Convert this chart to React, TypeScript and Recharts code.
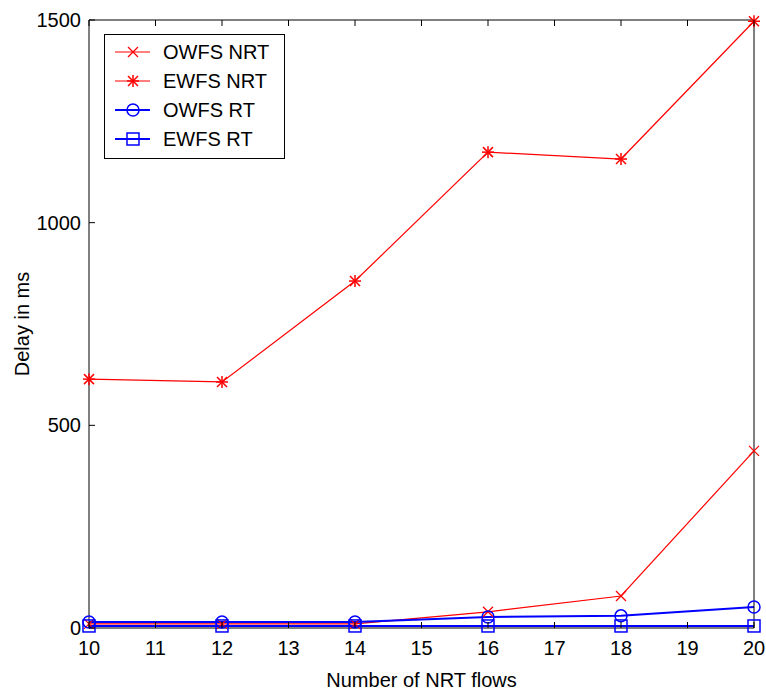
import { Legend, Line, LineChart, XAxis, YAxis } from 'recharts'

const flows = [10, 12, 14, 16, 18, 20]
const owfsNrt = [10, 10, 10, 40, 79, 437]
const ewfsNrt = [614, 607, 856, 1174, 1157, 1497]
const owfsRt = [15, 15, 15, 27, 30, 52]
const ewfsRt = [5, 5, 5, 5, 5, 5]
const xTicks = [10, 11, 12, 13, 14, 15, 16, 17, 18, 19, 20]
const yTicks = [0, 500, 1000, 1500]

const data = flows.map((f, i) => ({
  flows: f,
  owfsNrt: owfsNrt[i],
  ewfsNrt: ewfsNrt[i],
  owfsRt: owfsRt[i],
  ewfsRt: ewfsRt[i],
}))

const FONT = "'Liberation Sans Narrow', 'Liberation Sans', Arial, sans-serif"
const FS = 20
const RED = '#ff0000'
const BLUE = '#0000ff'

type Kind = 'x' | 'star' | 'circle' | 'square'

function Marker({ cx, cy, kind, color }: { cx: number; cy: number; kind: Kind; color: string }) {
  const s = 5
  if (kind === 'x') {
    return (
      <g stroke={color} strokeWidth={1.2}>
        <line x1={cx - s} y1={cy - s} x2={cx + s} y2={cy + s} />
        <line x1={cx - s} y1={cy + s} x2={cx + s} y2={cy - s} />
      </g>
    )
  }
  if (kind === 'star') {
    return (
      <g stroke={color} strokeWidth={1.5}>
        <line x1={cx - s} y1={cy - s} x2={cx + s} y2={cy + s} />
        <line x1={cx - s} y1={cy + s} x2={cx + s} y2={cy - s} />
        <line x1={cx} y1={cy - 6} x2={cx} y2={cy + 6} />
        <line x1={cx - 6} y1={cy} x2={cx + 6} y2={cy} />
      </g>
    )
  }
  if (kind === 'circle') {
    return <circle cx={cx} cy={cy} r={6} fill="none" stroke={color} strokeWidth={1.5} />
  }
  return <rect x={cx - 6} y={cy - 6} width={12} height={12} fill="none" stroke={color} strokeWidth={1.5} />
}

const series: { key: string; name: string; color: string; kind: Kind; width: number }[] = [
  { key: 'owfsNrt', name: 'OWFS NRT', color: RED, kind: 'x', width: 1.2 },
  { key: 'ewfsNrt', name: 'EWFS NRT', color: RED, kind: 'star', width: 1.2 },
  { key: 'owfsRt', name: 'OWFS RT', color: BLUE, kind: 'circle', width: 2 },
  { key: 'ewfsRt', name: 'EWFS RT', color: BLUE, kind: 'square', width: 2 },
]

const tickText = { fontFamily: FONT, fontSize: FS, fill: '#000' }

function BottomTick({ x, y, payload }: any) {
  return (
    <g>
      <line x1={x} y1={y} x2={x} y2={y - 6} stroke="#000" />
      <text x={x} y={y + 27} textAnchor="middle" {...tickText}>
        {payload.value}
      </text>
    </g>
  )
}

function TopTick({ x, y }: any) {
  return <line x1={x} y1={y} x2={x} y2={y + 6} stroke="#000" />
}

function LeftTick({ x, y, payload }: any) {
  return (
    <g>
      <line x1={x} y1={y} x2={x + 6} y2={y} stroke="#000" />
      <text x={x - 8} y={y + 7} textAnchor="end" {...tickText}>
        {payload.value}
      </text>
    </g>
  )
}

function RightTick({ x, y }: any) {
  return <line x1={x} y1={y} x2={x - 6} y2={y} stroke="#000" />
}

function LegendBox() {
  return (
    <svg width={181} height={125} style={{ display: 'block' }}>
      <rect x={0.5} y={0.5} width={180} height={124} fill="#fff" stroke="#000" />
      {series.map((s, i) => {
        const y = 18 + i * 29
        return (
          <g key={s.key}>
            <line x1={11} y1={y} x2={46} y2={y} stroke={s.color} strokeWidth={s.width} />
            <Marker cx={29} cy={y} kind={s.kind} color={s.color} />
            <text x={59} y={y + 7} fontFamily={FONT} fontSize={FS} fill="#000">
              {s.name}
            </text>
          </g>
        )
      })}
    </svg>
  )
}

export default function App() {
  return (
    <div style={{ position: 'absolute', left: 0, top: 0, background: '#fff' }}>
      <LineChart width={766} height={693} data={data} margin={{ top: 0, right: 0, bottom: 0, left: 0 }}>
        <XAxis
          dataKey="flows"
          type="number"
          domain={[10, 20]}
          ticks={xTicks}
          interval={0}
          height={65}
          tickSize={0}
          tickMargin={0}
          tickLine={false}
          tick={<BottomTick />}
          axisLine={{ stroke: '#000' }}
          label={{
            value: 'Number of NRT flows',
            position: 'insideBottom',
            offset: 6,
            style: { fontFamily: FONT, fontSize: FS, fill: '#000' },
          }}
        />
        <XAxis
          xAxisId="top"
          orientation="top"
          dataKey="flows"
          type="number"
          domain={[10, 20]}
          ticks={xTicks}
          interval={0}
          height={20}
          tickSize={0}
          tickMargin={0}
          tickLine={false}
          tick={<TopTick />}
          axisLine={{ stroke: '#000' }}
        />
        <YAxis
          type="number"
          domain={[0, 1500]}
          ticks={yTicks}
          interval={0}
          width={89}
          tickSize={0}
          tickMargin={0}
          tickLine={false}
          tick={<LeftTick />}
          axisLine={{ stroke: '#000' }}
          label={{
            content: ({ viewBox }: any) => (
              <text
                x={22}
                y={viewBox.y + viewBox.height / 2}
                transform={`rotate(-90, 22, ${viewBox.y + viewBox.height / 2})`}
                textAnchor="middle"
                dominantBaseline="central"
                fontFamily={FONT}
                fontSize={FS}
                fill="#000"
              >
                Delay in ms
              </text>
            ),
          }}
        />
        <YAxis
          yAxisId="right"
          orientation="right"
          type="number"
          domain={[0, 1500]}
          ticks={yTicks}
          interval={0}
          width={12}
          tickSize={0}
          tickMargin={0}
          tickLine={false}
          tick={<RightTick />}
          axisLine={{ stroke: '#000' }}
        />
        <Legend
          layout="horizontal"
          verticalAlign="middle"
          align="center"
          wrapperStyle={{ left: 104, top: 34, width: 181, height: 125 }}
          content={() => <LegendBox />}
        />
        {series.map((s) => (
          <Line
            key={s.key}
            dataKey={s.key}
            name={s.name}
            type="linear"
            stroke={s.color}
            strokeWidth={s.width}
            isAnimationActive={false}
            dot={(p: any) => <Marker key={`${s.key}-${p.index}`} cx={p.cx} cy={p.cy} kind={s.kind} color={s.color} />}
            activeDot={false}
          />
        ))}
      </LineChart>
    </div>
  )
}
